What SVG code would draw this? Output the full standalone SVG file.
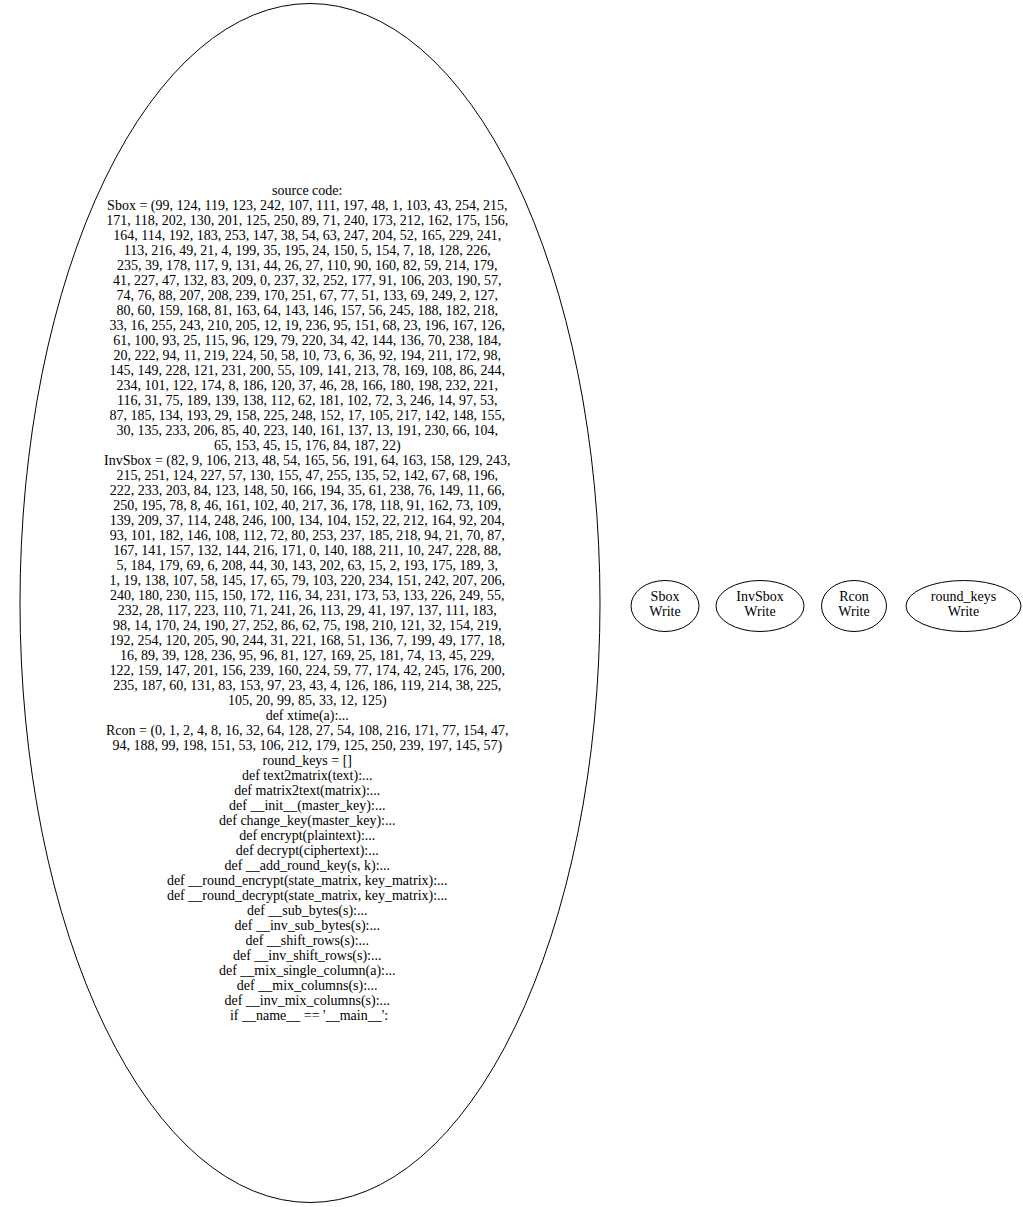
<svg xmlns="http://www.w3.org/2000/svg" width="1023" height="1207" viewBox="0 0 1023 1207">
<style>
.n { fill: none; stroke: #000; stroke-width: 1; }
.t { font-family: "Liberation Serif", "Times New Roman", serif; font-size: 14px; fill: #000; text-anchor: middle; }
</style>
<rect x="0" y="0" width="1023" height="1207" fill="#fff"/>
<g id="edges"></g>
<g id="source_code">
<ellipse class="n" cx="310" cy="603" rx="290" ry="599.5"/>
<text class="t">
<tspan x="309" y="195">source code:</tspan>
<tspan x="309" y="210">Sbox = (99, 124, 119, 123, 242, 107, 111, 197, 48, 1, 103, 43, 254, 215,</tspan>
<tspan x="309" y="225">171, 118, 202, 130, 201, 125, 250, 89, 71, 240, 173, 212, 162, 175, 156,</tspan>
<tspan x="309" y="240">164, 114, 192, 183, 253, 147, 38, 54, 63, 247, 204, 52, 165, 229, 241,</tspan>
<tspan x="309" y="255">113, 216, 49, 21, 4, 199, 35, 195, 24, 150, 5, 154, 7, 18, 128, 226,</tspan>
<tspan x="309" y="270">235, 39, 178, 117, 9, 131, 44, 26, 27, 110, 90, 160, 82, 59, 214, 179,</tspan>
<tspan x="309" y="285">41, 227, 47, 132, 83, 209, 0, 237, 32, 252, 177, 91, 106, 203, 190, 57,</tspan>
<tspan x="309" y="300">74, 76, 88, 207, 208, 239, 170, 251, 67, 77, 51, 133, 69, 249, 2, 127,</tspan>
<tspan x="309" y="315">80, 60, 159, 168, 81, 163, 64, 143, 146, 157, 56, 245, 188, 182, 218,</tspan>
<tspan x="309" y="330">33, 16, 255, 243, 210, 205, 12, 19, 236, 95, 151, 68, 23, 196, 167, 126,</tspan>
<tspan x="309" y="345">61, 100, 93, 25, 115, 96, 129, 79, 220, 34, 42, 144, 136, 70, 238, 184,</tspan>
<tspan x="309" y="360">20, 222, 94, 11, 219, 224, 50, 58, 10, 73, 6, 36, 92, 194, 211, 172, 98,</tspan>
<tspan x="309" y="375">145, 149, 228, 121, 231, 200, 55, 109, 141, 213, 78, 169, 108, 86, 244,</tspan>
<tspan x="309" y="390">234, 101, 122, 174, 8, 186, 120, 37, 46, 28, 166, 180, 198, 232, 221,</tspan>
<tspan x="309" y="405">116, 31, 75, 189, 139, 138, 112, 62, 181, 102, 72, 3, 246, 14, 97, 53,</tspan>
<tspan x="309" y="420">87, 185, 134, 193, 29, 158, 225, 248, 152, 17, 105, 217, 142, 148, 155,</tspan>
<tspan x="309" y="435">30, 135, 233, 206, 85, 40, 223, 140, 161, 137, 13, 191, 230, 66, 104,</tspan>
<tspan x="309" y="450">65, 153, 45, 15, 176, 84, 187, 22)</tspan>
<tspan x="309" y="465">InvSbox = (82, 9, 106, 213, 48, 54, 165, 56, 191, 64, 163, 158, 129, 243,</tspan>
<tspan x="309" y="480">215, 251, 124, 227, 57, 130, 155, 47, 255, 135, 52, 142, 67, 68, 196,</tspan>
<tspan x="309" y="495">222, 233, 203, 84, 123, 148, 50, 166, 194, 35, 61, 238, 76, 149, 11, 66,</tspan>
<tspan x="309" y="510">250, 195, 78, 8, 46, 161, 102, 40, 217, 36, 178, 118, 91, 162, 73, 109,</tspan>
<tspan x="309" y="525">139, 209, 37, 114, 248, 246, 100, 134, 104, 152, 22, 212, 164, 92, 204,</tspan>
<tspan x="309" y="540">93, 101, 182, 146, 108, 112, 72, 80, 253, 237, 185, 218, 94, 21, 70, 87,</tspan>
<tspan x="309" y="555">167, 141, 157, 132, 144, 216, 171, 0, 140, 188, 211, 10, 247, 228, 88,</tspan>
<tspan x="309" y="570">5, 184, 179, 69, 6, 208, 44, 30, 143, 202, 63, 15, 2, 193, 175, 189, 3,</tspan>
<tspan x="309" y="585">1, 19, 138, 107, 58, 145, 17, 65, 79, 103, 220, 234, 151, 242, 207, 206,</tspan>
<tspan x="309" y="600">240, 180, 230, 115, 150, 172, 116, 34, 231, 173, 53, 133, 226, 249, 55,</tspan>
<tspan x="309" y="615">232, 28, 117, 223, 110, 71, 241, 26, 113, 29, 41, 197, 137, 111, 183,</tspan>
<tspan x="309" y="630">98, 14, 170, 24, 190, 27, 252, 86, 62, 75, 198, 210, 121, 32, 154, 219,</tspan>
<tspan x="309" y="645">192, 254, 120, 205, 90, 244, 31, 221, 168, 51, 136, 7, 199, 49, 177, 18,</tspan>
<tspan x="309" y="660">16, 89, 39, 128, 236, 95, 96, 81, 127, 169, 25, 181, 74, 13, 45, 229,</tspan>
<tspan x="309" y="675">122, 159, 147, 201, 156, 239, 160, 224, 59, 77, 174, 42, 245, 176, 200,</tspan>
<tspan x="309" y="690">235, 187, 60, 131, 83, 153, 97, 23, 43, 4, 126, 186, 119, 214, 38, 225,</tspan>
<tspan x="309" y="705">105, 20, 99, 85, 33, 12, 125)</tspan>
<tspan x="309" y="720">def xtime(a):...</tspan>
<tspan x="309" y="735">Rcon = (0, 1, 2, 4, 8, 16, 32, 64, 128, 27, 54, 108, 216, 171, 77, 154, 47,</tspan>
<tspan x="309" y="750">94, 188, 99, 198, 151, 53, 106, 212, 179, 125, 250, 239, 197, 145, 57)</tspan>
<tspan x="309" y="765">round_keys = []</tspan>
<tspan x="309" y="780">def text2matrix(text):...</tspan>
<tspan x="309" y="795">def matrix2text(matrix):...</tspan>
<tspan x="309" y="810">def __init__(master_key):...</tspan>
<tspan x="309" y="825">def change_key(master_key):...</tspan>
<tspan x="309" y="840">def encrypt(plaintext):...</tspan>
<tspan x="309" y="855">def decrypt(ciphertext):...</tspan>
<tspan x="309" y="870">def __add_round_key(s, k):...</tspan>
<tspan x="309" y="885">def __round_encrypt(state_matrix, key_matrix):...</tspan>
<tspan x="309" y="900">def __round_decrypt(state_matrix, key_matrix):...</tspan>
<tspan x="309" y="915">def __sub_bytes(s):...</tspan>
<tspan x="309" y="930">def __inv_sub_bytes(s):...</tspan>
<tspan x="309" y="945">def __shift_rows(s):...</tspan>
<tspan x="309" y="960">def __inv_shift_rows(s):...</tspan>
<tspan x="309" y="975">def __mix_single_column(a):...</tspan>
<tspan x="309" y="990">def __mix_columns(s):...</tspan>
<tspan x="309" y="1005">def __inv_mix_columns(s):...</tspan>
<tspan x="309" y="1020">if __name__ == '__main__':</tspan>
</text>
</g>
<g id="Sbox">
<ellipse class="n" cx="665" cy="606" rx="34" ry="25.5"/>
<text class="t"><tspan x="665" y="601">Sbox</tspan><tspan x="665" y="616">Write</tspan></text>
</g>
<g id="InvSbox">
<ellipse class="n" cx="760" cy="606" rx="44" ry="25.5"/>
<text class="t"><tspan x="760" y="601">InvSbox</tspan><tspan x="760" y="616">Write</tspan></text>
</g>
<g id="Rcon">
<ellipse class="n" cx="854" cy="606" rx="32.5" ry="25.5"/>
<text class="t"><tspan x="854" y="601">Rcon</tspan><tspan x="854" y="616">Write</tspan></text>
</g>
<g id="round_keys">
<ellipse class="n" cx="963.5" cy="606" rx="57.5" ry="25.5"/>
<text class="t"><tspan x="963.5" y="601">round_keys</tspan><tspan x="963.5" y="616">Write</tspan></text>
</g>
</svg>
